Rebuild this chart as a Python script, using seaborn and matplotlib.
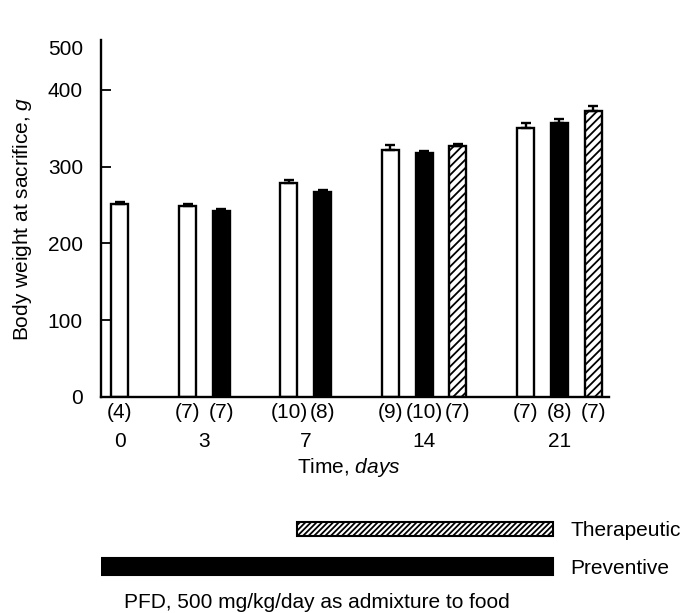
import numpy as np
import pandas as pd
import matplotlib
matplotlib.use("Agg")
import matplotlib.pyplot as plt
import seaborn as sns

# ---------------- data ----------------
days = ["0", "3", "7", "14", "21"]
series = ["Control", "Preventive", "Therapeutic"]
control_mean = [252, 249, 279, 322, 351]
control_err = [2, 2, 3, 6, 6]
control_n = [4, 7, 10, 9, 7]
preventive_mean = [np.nan, 242, 267, 318, 357]
preventive_err = [np.nan, 3, 3, 3, 5]
preventive_n = [None, 7, 8, 10, 8]
therapeutic_mean = [np.nan, np.nan, np.nan, 327, 372]
therapeutic_err = [np.nan, np.nan, np.nan, 3, 7]
therapeutic_n = [None, None, None, 7, 7]

regimens = ["Therapeutic", "Preventive"]
regimen_start = [5.25, -0.56]
regimen_end = [12.8, 12.8]

# ---------------- build table ----------------
means = {"Control": control_mean, "Preventive": preventive_mean, "Therapeutic": therapeutic_mean}
errs = {"Control": control_err, "Preventive": preventive_err, "Therapeutic": therapeutic_err}
ns = {"Control": control_n, "Preventive": preventive_n, "Therapeutic": therapeutic_n}
rows = []
centers = []
slot = 0
for i, d in enumerate(days):
    group = []
    for s in series:
        m = means[s][i]
        if not np.isnan(m):
            rows.append(dict(slot=slot, weight=m, err=errs[s][i], n=ns[s][i], series=s))
            group.append(slot)
            slot += 1
    centers.append(np.mean(group))
    slot += 1
df = pd.DataFrame(rows)

# ---------------- style ----------------
sns.set_style("ticks")
plt.rcParams["font.family"] = ["Liberation Sans", "DejaVu Sans"]
plt.rcParams["mathtext.fontset"] = "custom"
plt.rcParams["mathtext.it"] = "Liberation Sans:italic"
plt.rcParams["mathtext.rm"] = "Liberation Sans"
plt.rcParams["hatch.linewidth"] = 1.3
for k in ["text.color", "axes.labelcolor", "xtick.color", "ytick.color", "axes.edgecolor"]:
    plt.rcParams[k] = "black"
FS = 15

fig = plt.figure(figsize=(6.96, 6.13), dpi=100)
ax = fig.add_axes([101 / 696, 216 / 613, 508 / 696, 357 / 613])

sns.barplot(data=df, x="slot", y="weight", hue="series", hue_order=series,
            palette={"Control": "white", "Preventive": "black", "Therapeutic": "white"},
            native_scale=True, dodge=False, width=0.5, edgecolor="black",
            linewidth=1.7, errorbar=None, legend=False, ax=ax)

ther_slots = set(df.loc[df.series == "Therapeutic", "slot"].tolist())
for p in ax.patches:
    c = p.get_x() + p.get_width() / 2
    if any(abs(c - t) < 1e-6 for t in ther_slots):
        p.set_hatch("////")

ax.errorbar(df["slot"], df["weight"], yerr=[np.zeros(len(df)), df["err"]],
            fmt="none", ecolor="black", elinewidth=1.7, capsize=3.6, capthick=1.7, zorder=3)

ax.set_xlim(-0.56, 14.47)
ax.set_ylim(0, 465)
ax.set_yticks([0, 100, 200, 300, 400])
ax.tick_params(axis="y", direction="in", length=7, width=1.3, pad=13, labelsize=FS)
ax.set_xticks(centers, days)
ax.tick_params(axis="x", length=0, pad=25, labelsize=FS)
for sp in ["top", "right"]:
    ax.spines[sp].set_visible(False)
for sp in ["left", "bottom"]:
    ax.spines[sp].set_linewidth(1.7)

ax.annotate("500", xy=(0, 453), xycoords=("axes fraction", "data"),
            xytext=(-13, 0), textcoords="offset points", ha="right", va="center", fontsize=FS)

for _, r in df.iterrows():
    ax.annotate(f"({int(r['n'])})", xy=(r["slot"], 0), xycoords=("data", "axes fraction"),
                xytext=(0, -11), textcoords="offset points", ha="center", va="center", fontsize=FS)

ax.set_ylabel("Body weight at sacrifice, $\\it{g}$", fontsize=FS, labelpad=10)
ax.set_xlabel("Time, $\\it{days}$", fontsize=FS)
ax.xaxis.set_label_coords(0.488, -0.165)

# ---------------- regimen timeline ----------------
ax2 = fig.add_axes([101 / 696, (613 - 582) / 613, 508 / 696, 68.4 / 613])
ax2.set_xlim(-0.56, 14.47)
ax2.set_ylim(-0.4, 1.4)
ax2.barh([1, 0], [e - s for s, e in zip(regimen_start, regimen_end)], left=regimen_start,
         height=[0.37, 0.45], color=["white", "black"], edgecolor="black", linewidth=1.5,
         hatch=["//////", None])
for yy, name, e in zip([1, 0], regimens, regimen_end):
    ax2.text(e + 0.53, yy, name, ha="left", va="center_baseline", fontsize=FS, clip_on=False)
ax2.axis("off")

fig.text(124 / 696, 5 / 613, "PFD, 500 mg/kg/day as admixture to food",
         ha="left", va="baseline", fontsize=FS)

fig.savefig("out.png", dpi=100, facecolor="white")
